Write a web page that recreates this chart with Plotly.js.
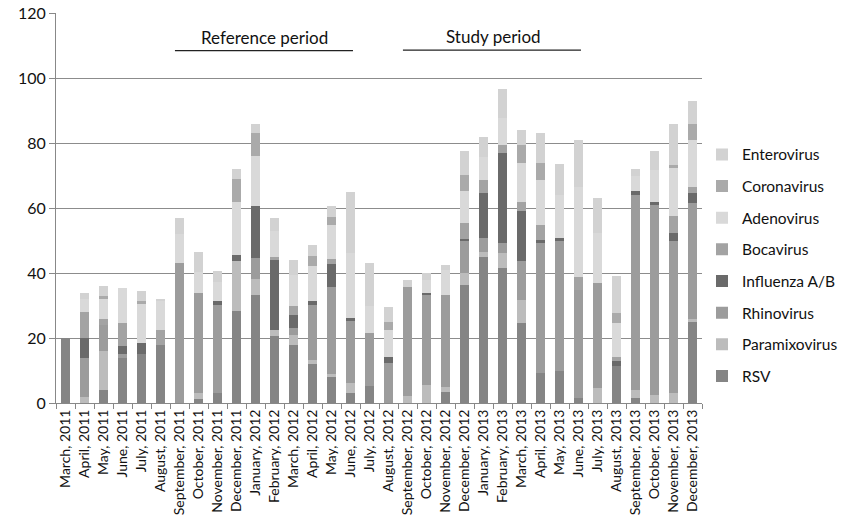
<!DOCTYPE html>
<html>
<head>
<meta charset="utf-8">
<script src="https://cdn.plot.ly/plotly-3.0.1.min.js"></script>
<style>html,body{margin:0;padding:0;background:#fff;}#chart{width:848px;height:524px;}</style>
</head>
<body>
<div id="chart"></div>
<script>
const months = ["March, 2011","April, 2011","May, 2011","June, 2011","July, 2011","August, 2011","September, 2011","October, 2011","November, 2011","December, 2011","January, 2012","February, 2012","March, 2012","April, 2012","May, 2012","June, 2012","July, 2012","August, 2012","September, 2012","October, 2012","November, 2012","December, 2012","January, 2013","February, 2013","March, 2013","April, 2013","May, 2013","June, 2013","July, 2013","August, 2013","September, 2013","October, 2013","November, 2013","December, 2013"];

const rsv          = [20,0,4,14,15,18,0,1.3,3,28.2,33.3,20.5,18,12,8,3,5.3,0,0,0,3.3,36.4,45,41.5,24.6,9.2,9.7,1.5,0,11.3,1.5,0,0,25];
const paramixo     = [0,2,12,0,0,0,0,1.7,0,15.4,5,2,3,1.3,1,3.3,0,0,2.3,5.6,1.6,3.6,1.6,4.6,7.2,0,0,0,4.6,0,2.6,2.6,3.1,1];
const rhino        = [0,12,8,1,0,0,43,30.8,27.3,0,6.3,0,2,17,26.7,19,16.2,12.3,33.5,27.7,28.4,9.7,4.2,3.1,11.8,40,40,33.4,32.3,0,60,58.4,46.6,35.5];
const influenza    = [0,6,0,2.5,3.5,0,0,0,1,2,16,21.5,4,1,7.2,0.8,0,2,0,0.7,0,0.7,13.8,27.7,15.4,1,1,0,0,1.5,1,1,2.6,3];
const boca         = [0,8,2,7,0,4.5,0,0,0,0,0,1,3,0,1.5,0,0,0,0,0,0,5,4.1,2.5,3,4.6,0,4,0,1.5,0,0,5.1,2];
const adeno        = [0,4,6,11,12,9,9,6.4,6,16.4,15.4,8,9.5,11,10.3,20.2,8.2,8.2,0,4,7.5,9.7,6.9,8.3,11.8,13.9,13.4,27.7,15.4,10.3,4.6,9.8,14.9,14.4];
const corona       = [0,0,1,0,1,0,0,0,0,7,7,0,0,3,2.5,0,0,2.5,0,0,0,5,0,0,5.7,5.1,0,0,0,3.1,0,0,1,5];
const entero       = [0,2,3,0,3,0.5,5,6.3,3.2,3,3,4,4.5,3.2,3.3,18.7,13.3,4.5,2.2,2,1.7,7.4,6.4,8.8,4.5,9.2,9.4,14.4,10.7,11.3,2.3,5.7,12.7,7.1];

const seriesNames  = ["RSV","Paramixovirus","Rhinovirus","Influenza A/B","Bocavirus","Adenovirus","Coronavirus","Enterovirus"];
const seriesValues = [rsv,paramixo,rhino,influenza,boca,adeno,corona,entero];
const seriesColors = ["#858585","#bcbcbc","#9c9c9c","#6a6a6a","#a3a3a3","#d9d9d9","#aaaaaa","#d2d2d2"];

const periodLabels = ["Reference period","Study period"];

const FONT = "Lato, 'Open Sans', sans-serif";

const traces = seriesNames.map((n,i)=>({
  type:"bar", name:n, x:months, y:seriesValues[i],
  marker:{color:seriesColors[i], line:{width:0}},
  width:0.5, legendgroup:"g"+i, legendrank:100-i, hoverinfo:"skip"
}));

const layout = {
  width:848, height:524,
  margin:{l:56, r:146, t:13, b:121, autoexpand:false},
  barmode:"stack",
  paper_bgcolor:"#fff", plot_bgcolor:"#fff",
  font:{family:FONT, size:15, color:"#111"},
  showlegend:true,
  legend:{x:1.0, xanchor:"left", y:0.68, yanchor:"top",
          traceorder:"grouped", tracegroupgap:8.5,
          font:{family:FONT, size:15.5, color:"#111"}, itemwidth:30},
  xaxis:{type:"category", tickangle:-90, tickson:"boundaries",
         ticks:"outside", ticklen:5, tickcolor:"#888",
         showline:true, linecolor:"#888", linewidth:1,
         showgrid:false, tickfont:{family:FONT, size:14, color:"#111"},
         range:[-0.5,33.5]},
  yaxis:{range:[0,120], dtick:20, ticks:"outside", ticklen:6, tickcolor:"#888",
         showline:true, linecolor:"#888", linewidth:1,
         showgrid:true, gridcolor:"#8c8c8c", gridwidth:1,
         zeroline:false, tickfont:{family:FONT, size:16, color:"#111"}},
  shapes:[
    {type:"line", xref:"x", yref:"y", x0:5.76, x1:15.13, y0:108.4, y1:108.4, line:{color:"#222", width:1.3}},
    {type:"line", xref:"x", yref:"y", x0:17.76, x1:27.13, y0:108.6, y1:108.6, line:{color:"#222", width:1.3}}
  ],
  annotations:[
    {xref:"x", yref:"y", x:10.45, y:112.6, text:periodLabels[0], showarrow:false, font:{family:FONT, size:17, color:"#111"}},
    {xref:"x", yref:"y", x:22.5, y:112.8, text:periodLabels[1], showarrow:false, font:{family:FONT, size:17, color:"#111"}}
  ]
};

Plotly.newPlot("chart", traces, layout, {staticPlot:true, displayModeBar:false});
</script>
</body>
</html>
